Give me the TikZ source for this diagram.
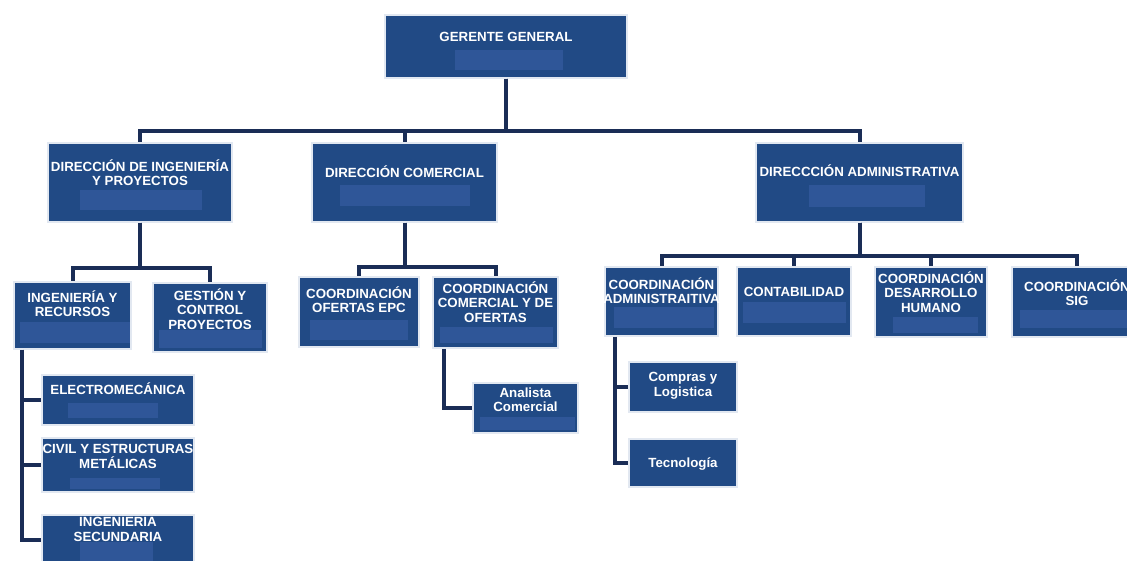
\documentclass[tikz,border=0pt]{standalone}
\usepackage{fontspec}
\setmainfont{Liberation Sans}
\definecolor{boxblue}{RGB}{33,74,133}
\definecolor{phblue}{RGB}{47,86,152}
\definecolor{linenavy}{RGB}{26,45,86}
\definecolor{rimgray}{RGB}{226,232,241}
\begin{document}
\begin{tikzpicture}[x=1pt,y=-1pt,
    box/.style={draw=rimgray,line width=1.5pt,fill=boxblue,inner sep=0pt},
    txt/.style={anchor=north,align=center,text=white,inner sep=0pt,
        font=\fontsize{13.3}{14.5}\selectfont\bfseries},
    ph/.style={fill=phblue},
    link/.style={draw=linenavy,line width=4pt}]
    \useasboundingbox (0,0) rectangle (1127,561);
    \clip (0,0) rectangle (1127,561);
    %% Gerente
    \node[box,minimum width=242,minimum height=63,label={[txt,yshift=-18pt]north:GERENTE GENERAL}] (gg) at (506,46.5) {};
    %% Direcciones
    \node[box,minimum width=184,minimum height=79,label={[txt,yshift=-17pt]north:DIRECCIÓN DE INGENIERÍA\\Y PROYECTOS}] (ding) at (140,182.5) {};
    \node[box,minimum width=185,minimum height=79,label={[txt,yshift=-23pt]north:DIRECCIÓN COMERCIAL}] (dcom) at (404.5,182.5) {};
    \node[box,minimum width=207,minimum height=79,label={[txt,yshift=-22pt]north:DIRECCCIÓN ADMINISTRATIVA}] (dadm) at (859.5,182.5) {};
    %% Ingenieria
    \node[box,minimum width=117,minimum height=67,label={[txt,yshift=-9pt]north:INGENIERÍA Y\\RECURSOS}] (ingrec) at (72.5,315.5) {};
    \node[box,minimum width=114,minimum height=69,label={[txt,yshift=-6pt]north:GESTIÓN Y\\CONTROL\\PROYECTOS}] (gest) at (210,317.5) {};
    \node[box,minimum width=152,minimum height=50,label={[txt,yshift=-8pt]north:ELECTROMECÁNICA}] (elec) at (118,400) {};
    \node[box,minimum width=152,minimum height=54,label={[txt,yshift=-7pt]north:CIVIL Y ESTRUCTURAS\\METÁLICAS}] (civil) at (118,465) {};
    \node[box,minimum width=152,minimum height=50,label={[txt,yshift=-3pt]north:INGENIERIA\\SECUNDARIA}] (ingsec) at (118,540) {};
    %% Comercial
    \node[box,minimum width=120,minimum height=70,label={[txt,yshift=-10pt]north:COORDINACIÓN\\OFERTAS EPC}] (cof) at (359,312) {};
    \node[box,minimum width=125,minimum height=71,label={[txt,yshift=-5pt]north:COORDINACIÓN\\COMERCIAL Y DE\\OFERTAS}] (ccom) at (495.5,312.5) {};
    \node[box,minimum width=105,minimum height=50,label={[txt,yshift=-5pt]north:Analista\\Comercial}] (anal) at (525.5,408) {};
    %% Administrativa
    \node[box,minimum width=113,minimum height=69,label={[txt,yshift=-11pt]north:COORDINACIÓN\\ADMINISTRAITIVA}] (cadm) at (661.5,301.5) {};
    \node[box,minimum width=114,minimum height=69,label={[txt,yshift=-21pt]north:CONTABILIDAD}] (cont) at (794,301.5) {};
    \node[box,minimum width=112,minimum height=70,label={[txt,yshift=-5pt]north:COORDINACIÓN\\DESARROLLO\\HUMANO}] (desh) at (931,302) {};
    \node[box,minimum width=130,minimum height=70,label={[txt,yshift=-13pt]north:COORDINACIÓN\\SIG}] (sig) at (1077,302) {};
    \node[box,minimum width=108,minimum height=50,label={[txt,yshift=-11pt]north:Compras y\\Logistica}] (comp) at (683,387) {};
    \node[box,minimum width=108,minimum height=48,label={[txt,yshift=-19pt]north:Tecnología}] (tec) at (683,463) {};
    %% name fields
    \fill[ph] (455,50) rectangle (563,70);
    \fill[ph] (80,190) rectangle (202,210);
    \fill[ph] (340,185) rectangle (470,206);
    \fill[ph] (809,185) rectangle (925,207);
    \fill[ph] (20,322) rectangle (130,343);
    \fill[ph] (159,330) rectangle (262,348);
    \fill[ph] (310,320) rectangle (408,340);
    \fill[ph] (440,327) rectangle (553,343);
    \fill[ph] (480,417) rectangle (575,430);
    \fill[ph] (614,307) rectangle (714,328);
    \fill[ph] (743,302) rectangle (846,323);
    \fill[ph] (893,317) rectangle (978,333);
    \fill[ph] (1020,310) rectangle (1127,328);
    \fill[ph] (68,403) rectangle (158,418);
    \fill[ph] (70,478) rectangle (160,489);
    \fill[ph] (80,542) rectangle (153,561);
    %% links
    \draw[link] (gg.south) -- ++(0,52) -| (ding.north);
    \draw[link] (gg.south) -- ++(0,52) -| (dcom.north);
    \draw[link] (gg.south) -- ++(0,52) -| (dadm.north);
    \draw[link] (ding.south) -- ++(0,45) -| (ingrec.north);
    \draw[link] (ding.south) -- ++(0,45) -| (gest.north);
    \draw[link] (dcom.south) -- ++(0,44) -| (cof.north);
    \draw[link] (dcom.south) -- ++(0,44) -| (ccom.north);
    \foreach \n in {cadm,cont,desh,sig}
        \draw[link] (dadm.south) -- ++(0,33) -| (\n.north);
    \foreach \n in {elec,civil,ingsec}
        \draw[link] ([xshift=9pt]ingrec.south west) |- (\n.west);
    \draw[link] ([xshift=12pt]ccom.south west) |- (anal.west);
    \foreach \n in {comp,tec}
        \draw[link] ([xshift=11pt]cadm.south west) |- (\n.west);
\end{tikzpicture}
\end{document}
